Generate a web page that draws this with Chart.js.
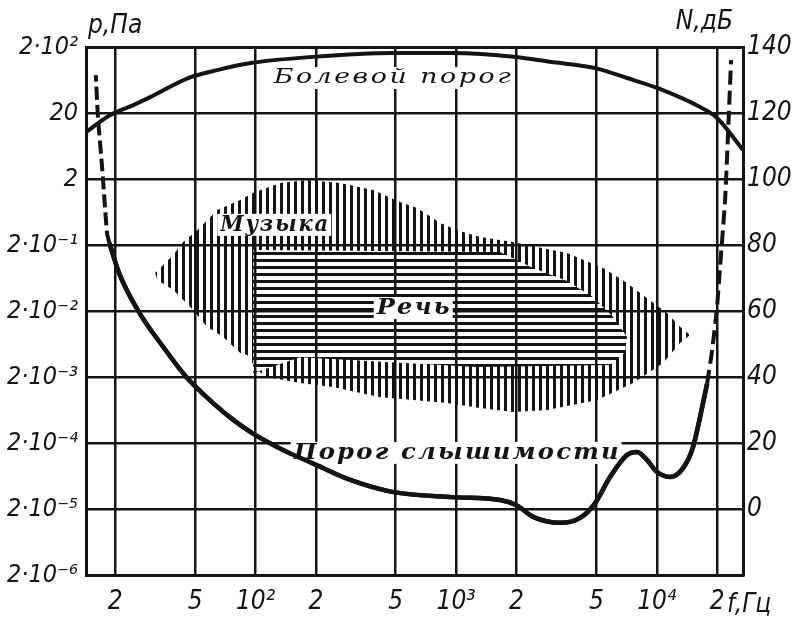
<!DOCTYPE html>
<html><head><meta charset="utf-8">
<script src="https://cdn.jsdelivr.net/npm/chart.js@4.4.1/dist/chart.umd.min.js"></script>
<style>html,body{margin:0;padding:0;background:#fff;}#wrap{width:800px;height:625px;}</style>
</head><body><div id="wrap"><canvas id="c" width="800" height="625"></canvas></div>
<script>
// ---- axis ticks ----
const freqTicks = [20, 50, 100, 200, 500, 1000, 2000, 5000, 10000, 20000];
const freqTickLabels = ['2', '5', '10²', '2', '5', '10³', '2', '5', '10⁴', '2'];
const levelTicks = [-20, 0, 20, 40, 60, 80, 100, 120, 140];
const pressureLabels = ['2·10⁻⁶', '2·10⁻⁵', '2·10⁻⁴', '2·10⁻³', '2·10⁻²', '2·10⁻¹', '2', '20', '2·10²'];
const levelLabels = ['', '0', '20', '40', '60', '80', '100', '120', '140'];

// ---- pain threshold (Болевой порог) ----
const painFreq  = [14.3, 18.9, 24.6, 29.9, 46.2, 64.4, 96.4, 192, 480, 955, 1990, 2940, 4930, 7110, 10040, 16440, 19970, 26900];
const painLevel = [114.2, 119.4, 122.4, 124.8, 130.6, 133.0, 135.2, 137.0, 138.2, 138.2, 137.0, 135.5, 133.6, 130.6, 127.6, 121.8, 118.5, 108.8];

// ---- hearing threshold (Порог слышимости), solid part ----
const hearFreq  = [18.7, 20.9, 26.4, 34.7, 45.2, 61.5, 77.5, 96.4, 137, 192, 297, 480, 955, 1656, 1990, 2420, 3300, 4150, 4930, 5850, 7110, 7980, 8950, 10040, 11650, 13520, 15170, 16440, 17820];
const hearLevel = [80.6, 71.5, 59.4, 49.1, 40.0, 32.1, 27.0, 23.0, 17.9, 13.9, 8.8, 5.2, 3.6, 2.7, 1.2, -2.4, -4.2, -2.7, 1.8, 9.7, 16.4, 17.3, 14.8, 11.2, 9.7, 12.4, 18.8, 27.9, 38.0];
// dashed extensions
const hearLowFreq  = [18.7, 18.2, 17.2, 16.4, 16.0];
const hearLowLevel = [80.6, 83.6, 103.6, 118.8, 131.5];
const hearHighFreq  = [17820, 18880, 19970, 20670, 21900, 22660, 23460];
const hearHighLevel = [38.0, 48.2, 61.2, 73.3, 93.6, 113.9, 136.0];

// ---- music region (outline: top then bottom back) ----
const musicFreq  = [31.6, 38.9, 43.6, 51.3, 64.5, 83.9, 97.5, 133, 181, 264, 386, 526, 640, 832, 1012, 1318, 1923, 2535, 3573, 4295, 5405, 7112, 9480, 11250, 13060, 14650,
                    13060, 10740, 7620, 5050, 2845, 1923, 1318, 902, 611, 418, 243, 167, 114, 102, 91, 84, 69, 57.4, 47.3, 38.9, 32.4];
const musicLevel = [71.5, 77.0, 80.9, 84.5, 90.6, 93.6, 95.8, 98.8, 99.7, 98.8, 96.7, 93.0, 91.2, 86.7, 84.5, 82.4, 80.9, 79.4, 77.6, 75.5, 73.0, 68.5, 62.7, 59.4, 55.2, 52.7,
                    50.3, 44.2, 38.2, 33.0, 30.0, 29.4, 30.6, 32.1, 33.0, 33.9, 37.0, 38.2, 40.0, 42.1, 46.7, 47.3, 52.1, 55.2, 61.2, 66.4, 69.4];

// ---- speech region ----
const speechFreq  = [97.5, 1656, 2420, 3573, 4820, 6060, 7112, 6950, 5850, 1273, 167, 97.5];
const speechLevel = [78.5, 77.9, 73.0, 69.1, 64.2, 58.2, 52.1, 47.6, 43.6, 43.0, 46.0, 41.2];

// ---- in-plot labels ----
const labelTexts  = ['Болевой порог', 'Музыка', 'Речь', 'Порог слышимости'];
const labelFreqs  = [480, 124, 611, 1000];
const labelLevels = [130.6, 86.1, 60.9, 17];

// ---------------------------------------------------------------
const labelStyle = [
  {w: 237, size: 21, weight: 'normal'},
  {w: 108, size: 22, weight: 'bold'},
  {w: 73, size: 22, weight: 'bold'},
  {w: 325, size: 22, weight: 'bold'}
];
const canvas = document.getElementById('c');
const ctx0 = canvas.getContext('2d');
const INK = '#141414';
function stripes(vertical, period, thick, bg) {
  const c = document.createElement('canvas');
  c.width = vertical ? period : 1;
  c.height = vertical ? 1 : period;
  const g = c.getContext('2d');
  if (bg) { g.fillStyle = bg; g.fillRect(0, 0, c.width, c.height); }
  g.fillStyle = INK;
  if (vertical) g.fillRect(0, 0, thick, 1); else g.fillRect(0, 0, 1, thick);
  return ctx0.createPattern(c, 'repeat');
}
const pts = (fs, ls) => fs.map((f, i) => ({x: f, y: ls[i]}));
const TICKFONT = '"DejaVu Sans Condensed", "DejaVu Sans", sans-serif';

const textPlugin = {
  id: 'texts',
  afterDraw(chart) {
    const {ctx, scales: {x, y}, chartArea} = chart;
    ctx.save();
    ctx.textBaseline = 'middle';
    ctx.textAlign = 'left';
    labelTexts.forEach((t, i) => {
      const st = labelStyle[i];
      ctx.font = 'italic ' + st.weight + ' ' + st.size + 'px "DejaVu Serif", serif';
      const cx = x.getPixelForValue(labelFreqs[i]);
      const cy = y.getPixelForValue(labelLevels[i]);
      ctx.letterSpacing = '2px';
      const w0 = ctx.measureText(t).width - 2;
      const k = st.w / w0;
      ctx.fillStyle = '#fff';
      ctx.fillRect(cx - st.w / 2 - 3, cy - 11, st.w + 6, 22);
      ctx.save();
      ctx.translate(cx - st.w / 2, cy);
      ctx.scale(k, 1);
      ctx.fillStyle = INK;
      ctx.fillText(t, 0, 0);
      ctx.restore();
    });
    ctx.letterSpacing = '0px';
    // redraw hearing curve over its label
    ctx.save();
    ctx.beginPath();
    ctx.rect(chartArea.left, chartArea.top, chartArea.right - chartArea.left, chartArea.bottom - chartArea.top);
    ctx.clip();
    chart.getDatasetMeta(1).dataset.draw(ctx, chartArea);
    ctx.restore();
    // axis titles
    ctx.font = 'italic 26px ' + TICKFONT;
    ctx.fillStyle = INK;
    ctx.textAlign = 'left';
    ctx.fillText('p,Па', chartArea.left + 2, 26);
    ctx.textAlign = 'right';
    ctx.fillText('N,дБ', chartArea.right - 10, 22);
    ctx.textAlign = 'left';
    ctx.fillText('f,Гц', chartArea.right - 16, 605);
    ctx.restore();
  }
};

new Chart(canvas, {
  type: 'line',
  data: {
    datasets: [
      {data: pts(painFreq, painLevel), borderColor: INK, borderWidth: 4, cubicInterpolationMode: 'monotone', pointRadius: 0, fill: false, order: 0},
      {data: pts(hearFreq, hearLevel), borderColor: INK, borderWidth: 4.5, cubicInterpolationMode: 'monotone', pointRadius: 0, fill: false, order: 0},
      {data: pts(hearLowFreq, hearLowLevel), borderColor: INK, borderWidth: 4, borderDash: [13, 5], tension: 0.2, pointRadius: 0, fill: false, order: 0},
      {data: pts(hearHighFreq, hearHighLevel), borderColor: INK, borderWidth: 4, borderDash: [14, 6], tension: 0.2, pointRadius: 0, fill: false, order: 0},
      {data: pts(speechFreq, speechLevel), borderWidth: 0, borderColor: 'rgba(0,0,0,0)', backgroundColor: stripes(false, 7, 3, '#fff'), tension: 0, pointRadius: 0, fill: 'shape', order: 1},
      {data: pts(musicFreq, musicLevel), borderWidth: 0, borderColor: 'rgba(0,0,0,0)', backgroundColor: stripes(true, 7, 3, null), tension: 0, pointRadius: 0, fill: 'shape', order: 2}
    ]
  },
  options: {
    responsive: false,
    animation: false,
    events: [],
    layout: {padding: {top: 47, left: 0, right: 0, bottom: 0}},
    plugins: {legend: {display: false}, tooltip: {enabled: false}, title: {display: false}},
    scales: {
      x: {
        type: 'logarithmic', min: 14.3, max: 26900, position: 'bottom',
        afterBuildTicks: s => { s.ticks = freqTicks.map(v => ({value: v})); },
        afterFit: s => { s.height = 50; },
        ticks: {autoSkip: false, maxRotation: 0, minRotation: 0, padding: 12, color: INK,
                font: {family: TICKFONT, size: 26, style: 'italic'},
                callback: (v, i) => freqTickLabels[i]},
        grid: {color: INK, lineWidth: 2.5, drawTicks: false, z: 1},
        border: {display: true, color: INK, width: 3, z: 1}
      },
      y: {
        type: 'linear', min: -20, max: 140, position: 'left',
        afterBuildTicks: s => { s.ticks = levelTicks.map(v => ({value: v})); },
        afterFit: s => { s.width = 86; },
        ticks: {autoSkip: false, padding: 8, color: INK,
                font: {family: TICKFONT, size: 25, style: 'italic'},
                callback: (v, i) => pressureLabels[i]},
        grid: {color: INK, lineWidth: c => (c.tick && c.tick.value === 140 ? 3 : 2.5), drawTicks: false, z: 1},
        border: {display: true, color: INK, width: 3, z: 1}
      },
      y2: {
        type: 'linear', min: -20, max: 140, position: 'right',
        afterBuildTicks: s => { s.ticks = levelTicks.map(v => ({value: v})); },
        afterFit: s => { s.width = 57; },
        ticks: {autoSkip: false, padding: 4, color: INK,
                font: {family: TICKFONT, size: 26, style: 'italic'},
                callback: (v, i) => levelLabels[i]},
        grid: {display: false, drawTicks: false},
        border: {display: true, color: INK, width: 3}
      }
    }
  },
  plugins: [textPlugin]
});
</script>
</body></html>
